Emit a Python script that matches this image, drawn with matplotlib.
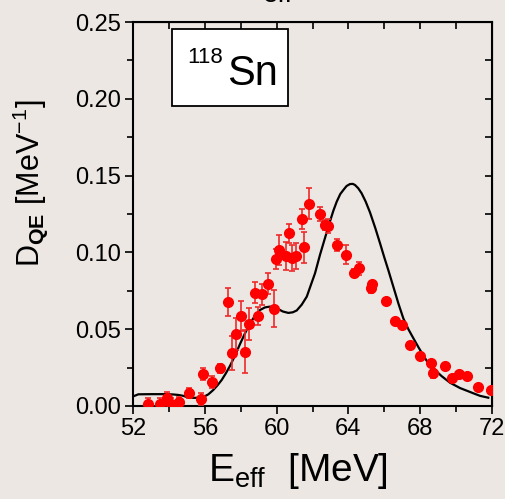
import numpy as np
import matplotlib
matplotlib.use('Agg')
import matplotlib.pyplot as plt
import matplotlib.patches as mpatches
from matplotlib.ticker import MultipleLocator, FormatStrFormatter

plt.rcParams['font.family'] = ['Liberation Sans', 'DejaVu Sans']
plt.rcParams['mathtext.fontset'] = 'custom'
plt.rcParams['mathtext.rm'] = 'Liberation Sans'
plt.rcParams['mathtext.it'] = 'Liberation Sans'
plt.rcParams['mathtext.bf'] = 'Liberation Sans:bold'

## measured points: energy, density, error
exp_E = [52.84, 53.49, 53.86, 54.10, 54.57, 55.13, 55.76, 55.87, 56.39, 56.86,
         57.29, 57.51, 57.72, 57.99, 58.21, 58.47, 58.81, 58.98, 59.20, 59.53,
         59.83, 59.96, 60.15, 60.54, 60.69, 60.86, 61.10, 61.42, 61.53, 61.81,
         62.42, 62.70, 62.88, 63.39, 63.87, 64.33, 64.61, 65.25, 65.32, 66.10,
         66.59, 67.01, 67.46, 68.00, 68.61, 68.74, 69.38, 69.80, 70.19, 70.60,
         71.25, 71.94]
exp_D = [0.0013, 0.0013, 0.0054, 0.0013, 0.0026, 0.0085, 0.0046, 0.0206, 0.0154, 0.0245,
         0.0675, 0.0345, 0.0467, 0.0586, 0.0354, 0.0536, 0.0738, 0.0586, 0.0727, 0.0796,
         0.0634, 0.0955, 0.1016, 0.0977, 0.1124, 0.0966, 0.0977, 0.1215, 0.1033, 0.1317,
         0.1250, 0.1178, 0.1174, 0.1048, 0.0985, 0.0866, 0.0896, 0.0768, 0.0796, 0.0684,
         0.0556, 0.0525, 0.0395, 0.0326, 0.0278, 0.0213, 0.0263, 0.0184, 0.0206, 0.0195,
         0.0124, 0.0104]
exp_err = [0.004, 0.004, 0.004, 0.004, 0.003, 0.003, 0.004, 0.004, 0.004, 0.003,
           0.0092, 0.011, 0.0103, 0.0098, 0.014, 0.0105, 0.007, 0.006, 0.0068, 0.007,
           0.012, 0.0065, 0.0098, 0.009, 0.006, 0.0084, 0.0084, 0.0065, 0.010, 0.010,
           0.0043, 0.003, 0.0045, 0.0037, 0.006, 0.0027, 0.004, 0.0035, 0.002, 0.001,
           0.001, 0.001, 0.001, 0.001, 0.001, 0.003, 0.001, 0.001, 0.001, 0.001,
           0.001, 0.001]

## calculated curve
calc_E = [52.0, 52.28, 53.0, 53.8, 54.23, 54.5, 54.79, 55.07, 55.4, 55.72,
          56.0, 56.19, 56.46, 56.7, 56.93, 57.16, 57.40, 57.68, 57.96, 58.24,
          58.52, 58.8, 59.07, 59.35, 59.63, 60.0, 60.35, 60.65, 60.9, 61.12,
          61.4, 61.68, 61.9, 62.14, 62.42, 62.7, 62.97, 63.16, 63.35, 63.55,
          63.72, 63.9, 64.09, 64.25, 64.37, 64.55, 64.74, 64.97, 65.21, 65.5,
          65.77, 66.0, 66.23, 66.51, 66.8, 67.07, 67.35, 67.63, 67.9, 68.18,
          68.45, 68.74, 69.2, 69.67, 70.23, 70.6, 70.97, 71.35, 71.81]
calc_D = [0.0063, 0.0076, 0.0077, 0.0077, 0.0075, 0.0072, 0.0066, 0.0055, 0.0053, 0.0054,
          0.0064, 0.0076, 0.0104, 0.0135, 0.0169, 0.0212, 0.0262, 0.0330, 0.0405, 0.0475,
          0.0538, 0.0590, 0.0625, 0.0642, 0.0647, 0.0636, 0.0615, 0.0606, 0.0610, 0.0622,
          0.0660, 0.0712, 0.0785, 0.0864, 0.0985, 0.1095, 0.1200, 0.1270, 0.1330, 0.1380,
          0.1406, 0.1432, 0.1445, 0.1446, 0.1439, 0.1418, 0.1385, 0.1330, 0.1260, 0.1160,
          0.1059, 0.0970, 0.0885, 0.0777, 0.0665, 0.0570, 0.0500, 0.0441, 0.0385, 0.0330,
          0.0280, 0.0245, 0.0195, 0.0152, 0.0117, 0.0100, 0.0083, 0.0066, 0.0054]

bg = '#ece7e3'
fig = plt.figure(figsize=(5.06, 4.99), dpi=100, facecolor=bg)
ax = fig.add_axes([0.2635, 0.1864, 0.7082, 0.7695], facecolor=bg)

ax.plot(calc_E, calc_D, 'k-', linewidth=1.6, zorder=2)
ax.errorbar(exp_E, exp_D, yerr=exp_err, fmt='o', color='#ff0000', markersize=7,
            ecolor='#ee2a2a', elinewidth=1.2, capsize=2, capthick=1.2, zorder=3)

ax.set_xlim(52, 72)
ax.set_ylim(0, 0.25)
ax.xaxis.set_major_locator(MultipleLocator(4))
ax.xaxis.set_minor_locator(MultipleLocator(2))
ax.yaxis.set_major_locator(MultipleLocator(0.05))
ax.yaxis.set_minor_locator(MultipleLocator(0.025))
ax.yaxis.set_major_formatter(FormatStrFormatter('%.2f'))
ax.tick_params(which='major', direction='out', length=6, width=1.2, labelsize=17, pad=3)
ax.tick_params(which='minor', direction='out', length=4, width=1.2)
for sp in ax.spines.values():
	sp.set_linewidth(1.5)

# top and right ticks point inward
top = ax.secondary_xaxis('top')
top.xaxis.set_major_locator(MultipleLocator(4))
top.xaxis.set_minor_locator(MultipleLocator(2))
top.tick_params(which='both', direction='in', length=5, width=1.2, labeltop=False)
right = ax.secondary_yaxis('right')
right.yaxis.set_major_locator(MultipleLocator(0.05))
right.yaxis.set_minor_locator(MultipleLocator(0.025))
right.tick_params(which='both', direction='in', length=5, width=1.2, labelright=False)

ax.set_xlabel(r'E$_{\mathrm{eff}}$  [MeV]', fontsize=28)
ax.xaxis.set_label_coords(0.46, -0.118)
ax.set_ylabel(r'D$_{\mathbf{QE}}$ [MeV$^{\mathrm{-1}}$]', fontsize=22)
ax.yaxis.set_label_coords(-0.232, 0.581)

## nucleus label box
box = mpatches.Rectangle((0.108, 0.781), 0.3237, 0.2005, transform=ax.transAxes,
                         facecolor='white', edgecolor='black', linewidth=1.3, zorder=4)
ax.add_patch(box)
ax.text(0.150, 0.893, '118', transform=ax.transAxes, fontsize=16,
        ha='left', va='baseline', zorder=5)
ax.text(0.261, 0.836, 'Sn', transform=ax.transAxes, fontsize=30,
        ha='left', va='baseline', zorder=5)

# leftover subscript cut off at the top
fig.text(278 / 506, 1 - 2 / 499, 'eff', fontsize=20, ha='center', va='baseline')

fig.savefig('out.png', dpi=100, facecolor=bg)
